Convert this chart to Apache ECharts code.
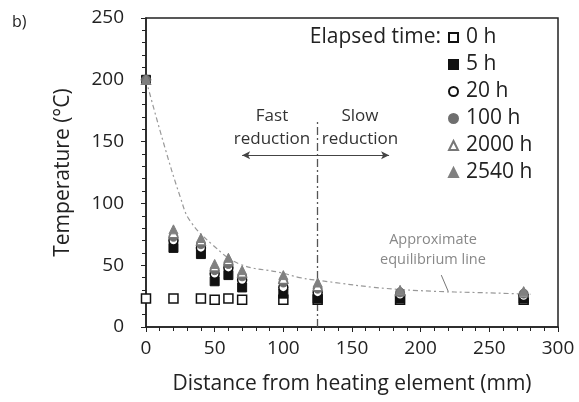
<!DOCTYPE html>
<html><head><meta charset="utf-8">
<script src="https://cdn.jsdelivr.net/npm/echarts@6/dist/echarts.min.js"></script>
<style>html,body{margin:0;padding:0;background:#fff}#c{width:579px;height:402px}</style>
</head><body><div id="c"></div>
<script>
const distances = [0, 20, 40, 50, 60, 70, 100, 125, 185, 275];
const t0h    = [23, 23, 23, 22, 23, 22, 22, 22, 22, 22];
const t5h    = [200, 64, 59, 37, 42, 32, 27, 23, 23, 23];
const t20h   = [200, 70, 64, 43, 48, 38, 32, 28, 26, 25];
const t100h  = [200, 73, 67, 46, 51, 41, 36, 31, 28, 27];
const t2000h = [200, 76, 70, 49, 54, 44, 39, 33, 29, 28];
const t2540h = [200, 79, 72, 51, 56, 46, 42, 36, 30, 29];
const eqX = [0, 12.5, 25, 32, 49, 68, 98, 112, 123, 183, 267, 280];
const eqY = [200, 150, 105, 86, 66, 51, 44, 40, 38, 30.5, 27, 26.5];
const seriesNames = ['0 h', '5 h', '20 h', '100 h', '2000 h', '2540 h'];
const xTicks = [0, 50, 100, 150, 200, 250, 300];
const yTicks = [0, 50, 100, 150, 200, 250];
const boundaryX = 125;

const FONT = '"Open Sans"';
const pair = arr => distances.map((d, i) => [d, arr[i]]);
const styles = [
  {symbol: 'rect', color: '#fff', border: '#111', bw: 1.5},
  {symbol: 'rect', color: '#111', border: '#111', bw: 1},
  {symbol: 'circle', color: '#fff', border: '#111', bw: 1.5},
  {symbol: 'circle', color: '#6f6f6f', border: '#6f6f6f', bw: 1},
  {symbol: 'triangle', color: '#fff', border: '#777', bw: 1.3},
  {symbol: 'triangle', color: '#808080', border: '#808080', bw: 1}
];
const vals = [t0h, t5h, t20h, t100h, t2000h, t2540h];
const scatter = seriesNames.map((n, i) => ({
  name: n, type: 'scatter', data: pair(vals[i]), symbol: styles[i].symbol, symbolSize: 9,
  itemStyle: {color: styles[i].color, borderColor: styles[i].border, borderWidth: styles[i].bw, opacity: 1},
  z: 10 + i
}));

const chart = echarts.init(document.getElementById('c'), null, {renderer: 'canvas'});
chart.setOption({
  animation: false,
  backgroundColor: '#fff',
  grid: {left: 146, right: 21, top: 18, bottom: 75, show: true, borderColor: '#222', borderWidth: 1.5, backgroundColor: 'transparent'},
  xAxis: {
    type: 'value', min: xTicks[0], max: xTicks[xTicks.length - 1], interval: 50,
    name: 'Distance from heating element (mm)', nameLocation: 'middle', nameGap: 47,
    nameTextStyle: {fontFamily: FONT, fontSize: 21, color: '#222'},
    axisLine: {lineStyle: {color: '#222', width: 1.5}},
    axisTick: {show: true, length: 5, lineStyle: {color: '#222'}},
    minorTick: {show: true, splitNumber: 5, length: 4, lineStyle: {color: '#222'}},
    splitLine: {show: false},
    axisLabel: {fontFamily: FONT, fontSize: 19, color: '#222', margin: 12}
  },
  yAxis: {
    type: 'value', min: yTicks[0], max: yTicks[yTicks.length - 1], interval: 50,
    name: 'Temperature (°C)', nameLocation: 'middle', nameGap: 72, nameRotate: 90,
    nameTextStyle: {fontFamily: FONT, fontSize: 21, color: '#222'},
    axisLine: {show: true, lineStyle: {color: '#222', width: 1.5}},
    axisTick: {show: true, length: 5, lineStyle: {color: '#222'}},
    minorTick: {show: true, splitNumber: 5, length: 4, lineStyle: {color: '#222'}},
    splitLine: {show: false},
    axisLabel: {fontFamily: FONT, fontSize: 19, color: '#222', margin: 22}
  },
  legend: {
    data: seriesNames, orient: 'vertical', left: 448, top: 27, padding: 0,
    itemWidth: 9, itemHeight: 9, itemGap: 6,
    textStyle: {fontFamily: FONT, fontSize: 21, color: '#222', lineHeight: 21, padding: [0, 0, 0, 3]}
  },
  graphic: [
    {type: 'text', x: 12, y: 22, style: {text: 'b)', font: '16px ' + FONT, fill: '#222', verticalAlign: 'middle'}},
    {type: 'text', x: 441, y: 37, style: {text: 'Elapsed time:', font: '21px ' + FONT, fill: '#222', align: 'right', verticalAlign: 'middle'}},
    {type: 'text', x: 272, y: 128, style: {text: 'Fast\nreduction', font: '17px ' + FONT, fill: '#333', align: 'center', verticalAlign: 'middle', lineHeight: 23}},
    {type: 'text', x: 360, y: 128, style: {text: 'Slow\nreduction', font: '17px ' + FONT, fill: '#333', align: 'center', verticalAlign: 'middle', lineHeight: 23}},
    {type: 'text', x: 433, y: 250, style: {text: 'Approximate\nequilibrium line', font: '14.5px ' + FONT, fill: '#888', align: 'center', verticalAlign: 'middle', lineHeight: 20}}
  ],
  series: [
    {
      type: 'line', data: eqX.map((x, i) => [x, eqY[i]]), smooth: 0.4, showSymbol: false, silent: true,
      lineStyle: {color: '#999', width: 1.2, type: [5, 3, 2, 3]}, z: 2,
      markLine: {
        silent: true, symbol: ['none', 'none'], animation: false, label: {show: false},
        data: [
          [{coord: [boundaryX, 0], lineStyle: {color: '#555', width: 1.3, type: [8, 3, 2, 3]}}, {coord: [boundaryX, 168]}],
          [{coord: [215, 42], lineStyle: {color: '#777', width: 1, type: 'solid'}}, {coord: [220, 29]}]
        ]
      }
    },
    {
      type: 'line', data: [], silent: true,
      markLine: {
        silent: true, symbol: ['none', 'arrow'], symbolSize: [6, 8], animation: false, label: {show: false},
        lineStyle: {color: '#444', width: 1.2, type: 'solid'},
        data: [
          [{coord: [boundaryX, 139]}, {coord: [70, 139]}],
          [{coord: [boundaryX, 139]}, {coord: [177, 139]}]
        ]
      }
    }
  ].concat(scatter)
});
</script></body></html>
